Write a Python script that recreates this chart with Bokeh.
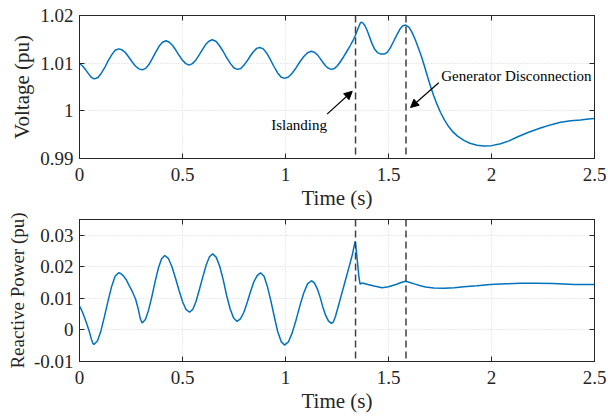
from bokeh.plotting import figure
from bokeh.models import (Span, Arrow, NormalHead, Label, LinearAxis, FixedTicker,
                          Range1d, ColumnDataSource)
from bokeh.layouts import column
from bokeh.embed import file_html
from bokeh.resources import INLINE

# ---------------- data ----------------
voltage_points = [
    (0.000, 1.0099), (0.015, 1.0094), (0.030, 1.0086), (0.045, 1.0077), (0.058, 1.0070),
    (0.066, 1.0068), (0.073, 1.0067), (0.090, 1.0070), (0.106, 1.0079), (0.123, 1.0091),
    (0.140, 1.0106), (0.157, 1.0118), (0.173, 1.0127), (0.190, 1.0130), (0.206, 1.0128),
    (0.223, 1.0122), (0.239, 1.0113), (0.255, 1.0103), (0.271, 1.0094), (0.288, 1.0088),
    (0.304, 1.0086), (0.321, 1.0089), (0.337, 1.0097), (0.354, 1.0110), (0.370, 1.0123),
    (0.387, 1.0136), (0.403, 1.0144), (0.420, 1.0147), (0.436, 1.0144), (0.452, 1.0137),
    (0.468, 1.0127), (0.484, 1.0116), (0.500, 1.0106), (0.516, 1.0099), (0.532, 1.0096),
    (0.548, 1.0099), (0.564, 1.0106), (0.580, 1.0117), (0.596, 1.0128), (0.612, 1.0139),
    (0.628, 1.0146), (0.644, 1.0149), (0.662, 1.0146), (0.679, 1.0137), (0.697, 1.0125),
    (0.715, 1.0111), (0.733, 1.0099), (0.750, 1.0090), (0.768, 1.0087), (0.783, 1.0089),
    (0.799, 1.0096), (0.814, 1.0105), (0.829, 1.0115), (0.844, 1.0124), (0.860, 1.0131),
    (0.875, 1.0133), (0.892, 1.0130), (0.909, 1.0121), (0.926, 1.0108), (0.944, 1.0093),
    (0.961, 1.0080), (0.978, 1.0071), (0.995, 1.0068), (1.014, 1.0071), (1.032, 1.0079),
    (1.051, 1.0090), (1.070, 1.0103), (1.089, 1.0114), (1.107, 1.0122), (1.126, 1.0125),
    (1.140, 1.0123), (1.154, 1.0118), (1.168, 1.0110), (1.181, 1.0102), (1.195, 1.0094),
    (1.209, 1.0089), (1.223, 1.0087), (1.238, 1.0089), (1.253, 1.0095), (1.268, 1.0104),
    (1.283, 1.0114), (1.298, 1.0125), (1.313, 1.0136), (1.326, 1.0146), (1.338, 1.0157),
    (1.348, 1.0168), (1.357, 1.0178), (1.363, 1.0184), (1.367, 1.0186), (1.374, 1.0185),
    (1.385, 1.0179), (1.396, 1.0169), (1.408, 1.0155), (1.420, 1.0141), (1.433, 1.0129),
    (1.447, 1.0122), (1.462, 1.0119), (1.480, 1.0119), (1.495, 1.0123), (1.510, 1.0133),
    (1.525, 1.0146), (1.540, 1.0159), (1.555, 1.0171), (1.568, 1.0178), (1.583, 1.0180),
    (1.600, 1.0175), (1.615, 1.0164), (1.630, 1.0149), (1.645, 1.0132), (1.660, 1.0114),
    (1.675, 1.0093), (1.690, 1.0071), (1.705, 1.0050), (1.720, 1.0031), (1.735, 1.0014),
    (1.752, 0.9997), (1.770, 0.9982), (1.790, 0.9968), (1.810, 0.9957), (1.835, 0.9947),
    (1.866, 0.9938), (1.895, 0.9932), (1.930, 0.9928), (1.963, 0.9926), (2.000, 0.9927),
    (2.044, 0.9931), (2.085, 0.9937), (2.125, 0.9945), (2.180, 0.9955), (2.238, 0.9964),
    (2.290, 0.9971), (2.335, 0.9976), (2.385, 0.9979), (2.432, 0.9981), (2.470, 0.9983),
    (2.500, 0.9984),
]
reactive_points = [
    (0.000, 0.0076), (0.012, 0.0060), (0.024, 0.0040), (0.036, 0.0018), (0.048, -0.0006),
    (0.058, -0.0030), (0.065, -0.0042), (0.070, -0.0046), (0.087, -0.0035), (0.104, -0.0003),
    (0.121, 0.0042), (0.139, 0.0093), (0.156, 0.0138), (0.173, 0.0170), (0.190, 0.0181),
    (0.200, 0.0179), (0.212, 0.0172), (0.226, 0.0160), (0.240, 0.0142), (0.256, 0.0122),
    (0.272, 0.0098), (0.285, 0.0067), (0.295, 0.0036), (0.304, 0.0022), (0.320, 0.0033),
    (0.335, 0.0062), (0.351, 0.0105), (0.367, 0.0153), (0.383, 0.0196), (0.398, 0.0225),
    (0.414, 0.0236), (0.431, 0.0227), (0.448, 0.0202), (0.465, 0.0166), (0.483, 0.0126),
    (0.500, 0.0090), (0.517, 0.0065), (0.534, 0.0056), (0.550, 0.0065), (0.566, 0.0091),
    (0.582, 0.0128), (0.599, 0.0169), (0.615, 0.0206), (0.631, 0.0232), (0.647, 0.0241),
    (0.664, 0.0230), (0.681, 0.0201), (0.698, 0.0158), (0.714, 0.0110), (0.731, 0.0067),
    (0.748, 0.0038), (0.765, 0.0027), (0.781, 0.0035), (0.798, 0.0056), (0.814, 0.0087),
    (0.830, 0.0121), (0.846, 0.0152), (0.863, 0.0173), (0.879, 0.0181), (0.896, 0.0170),
    (0.912, 0.0138), (0.929, 0.0092), (0.946, 0.0041), (0.962, -0.0005), (0.979, -0.0037),
    (0.995, -0.0048), (1.014, -0.0038), (1.032, -0.0010), (1.051, 0.0031), (1.070, 0.0077),
    (1.089, 0.0118), (1.107, 0.0146), (1.126, 0.0156), (1.140, 0.0149), (1.154, 0.0131),
    (1.168, 0.0104), (1.181, 0.0073), (1.195, 0.0046), (1.209, 0.0028), (1.223, 0.0021),
    (1.232, 0.0025), (1.242, 0.0042), (1.255, 0.0072), (1.270, 0.0108), (1.290, 0.0155),
    (1.310, 0.0203), (1.325, 0.0240), (1.334, 0.0268), (1.338, 0.0281), (1.344, 0.0250),
    (1.350, 0.0210), (1.356, 0.0170), (1.362, 0.0145), (1.367, 0.0147), (1.372, 0.0149),
    (1.400, 0.0144), (1.430, 0.0139), (1.469, 0.0134), (1.500, 0.0137), (1.540, 0.0145),
    (1.565, 0.0151), (1.583, 0.0154), (1.600, 0.0151), (1.625, 0.0146), (1.655, 0.0140),
    (1.680, 0.0136), (1.720, 0.0133), (1.770, 0.0132), (1.820, 0.0134), (1.866, 0.0137),
    (1.930, 0.0140), (1.995, 0.0144), (2.070, 0.0146), (2.140, 0.0148), (2.220, 0.0148),
    (2.300, 0.0147), (2.400, 0.0144), (2.500, 0.0144),
]
time_v = [p[0] for p in voltage_points]
voltage = [p[1] for p in voltage_points]
time_q = [p[0] for p in reactive_points]
reactive = [p[1] for p in reactive_points]

event_times = [1.34, 1.585]          # islanding, generator disconnection

x_ticks = [0, 0.5, 1, 1.5, 2, 2.5]
x_tick_labels = ["0", "0.5", "1", "1.5", "2", "2.5"]
v_ticks = [0.99, 1.0, 1.01, 1.02]
v_tick_labels = ["0.99", "1", "1.01", "1.02"]
q_ticks = [-0.01, 0.0, 0.01, 0.02, 0.03]
q_tick_labels = ["-0.01", "0", "0.01", "0.02", "0.03"]

# annotation positions (data units)
isl_text = (1.066, 0.9971)
isl_arrow = (1.202, 0.9993, 1.324, 1.0041)
gen_text = (2.121, 1.0074)
gen_arrow = (1.744, 1.0059, 1.607, 1.0007)

# ---------------- style ----------------
FONT = "Liberation Serif"
AX = "#262626"
BLUE = "#0072BD"
DASH = "#404040"


def box_axis(ticks):
    return LinearAxis(ticker=FixedTicker(ticks=ticks), major_tick_in=5, major_tick_out=0,
                      minor_tick_line_color=None, major_label_text_font_size="1px",
                      major_label_overrides={t: "" for t in ticks},
                      major_label_standoff=0, axis_line_color=AX, major_tick_line_color=AX)


def style(p, yt, ylabels, ylabel, ylabel_size):
    p.xaxis.ticker = FixedTicker(ticks=x_ticks)
    p.xaxis.major_label_overrides = dict(zip(x_ticks, x_tick_labels))
    p.yaxis.ticker = FixedTicker(ticks=yt)
    p.yaxis.major_label_overrides = dict(zip(yt, ylabels))
    p.xaxis.axis_label = "Time (s)"
    p.yaxis.axis_label = ylabel
    for ax in (p.xaxis[0], p.yaxis[0]):
        ax.axis_label_text_font = FONT
        ax.axis_label_text_font_style = "normal"
        ax.axis_label_text_font_size = "21px"
        ax.axis_label_text_color = AX
        ax.major_label_text_font = FONT
        ax.major_label_text_font_size = "19px"
        ax.major_label_text_color = AX
        ax.major_tick_in = 5
        ax.major_tick_out = 0
        ax.minor_tick_line_color = None
        ax.axis_line_color = AX
        ax.major_tick_line_color = AX
    p.yaxis.axis_label_text_font_size = ylabel_size
    p.xaxis.major_label_standoff = 9
    p.xaxis.axis_label_standoff = 2
    p.yaxis.major_label_standoff = 6
    p.yaxis.axis_label_standoff = 3
    p.add_layout(box_axis(x_ticks), "above")
    p.add_layout(box_axis(yt), "right")
    p.outline_line_color = AX
    p.grid.grid_line_color = "#d4d4d4"
    p.grid.grid_line_dash = "1 2"
    p.grid.grid_line_width = 1
    p.xgrid.ticker = FixedTicker(ticks=x_ticks)
    p.ygrid.ticker = FixedTicker(ticks=yt)
    p.background_fill_color = "white"
    p.border_fill_color = "white"
    for t in event_times:
        p.add_layout(Span(location=t, dimension="height", line_color=DASH,
                          line_width=1.5, line_dash="7 4"))


# ---------------- top: voltage ----------------
p1 = figure(width=606, height=212, x_range=Range1d(0, 2.5), y_range=Range1d(0.99, 1.02),
            output_backend="svg", toolbar_location=None,
            min_border_left=79, min_border_right=12, min_border_top=15, min_border_bottom=51)
style(p1, v_ticks, v_tick_labels, "Voltage (pu)", "21px")
src_v = ColumnDataSource(dict(t=time_v, v=voltage))
p1.line("t", "v", source=src_v, line_color=BLUE, line_width=1.5)

p1.add_layout(Label(x=isl_text[0], y=isl_text[1], text="Islanding", text_font=FONT,
                    text_font_size="15px", text_align="center", text_baseline="middle",
                    text_color="black"))
p1.add_layout(Label(x=gen_text[0], y=gen_text[1], text="Generator Disconnection", text_font=FONT,
                    text_font_size="15px", text_align="center", text_baseline="middle",
                    text_color="black"))
for xs, ys, xe, ye in (isl_arrow, gen_arrow):
    p1.add_layout(Arrow(end=NormalHead(size=8, fill_color="black", line_color="black", line_width=1),
                        x_start=xs, y_start=ys, x_end=xe, y_end=ye,
                        line_color="black", line_width=1.2))

# ---------------- bottom: reactive power ----------------
p2 = figure(width=606, height=203, x_range=Range1d(0, 2.5), y_range=Range1d(-0.01, 0.035),
            output_backend="svg", toolbar_location=None,
            min_border_left=79, min_border_right=12, min_border_top=7, min_border_bottom=49)
style(p2, q_ticks, q_tick_labels, "Reactive Power (pu)", "19px")
src_q = ColumnDataSource(dict(t=time_q, q=reactive))
p2.line("t", "q", source=src_q, line_color=BLUE, line_width=1.5)

layout = column(p1, p2, spacing=0)
open("out.html", "w").write(file_html(layout, INLINE))
